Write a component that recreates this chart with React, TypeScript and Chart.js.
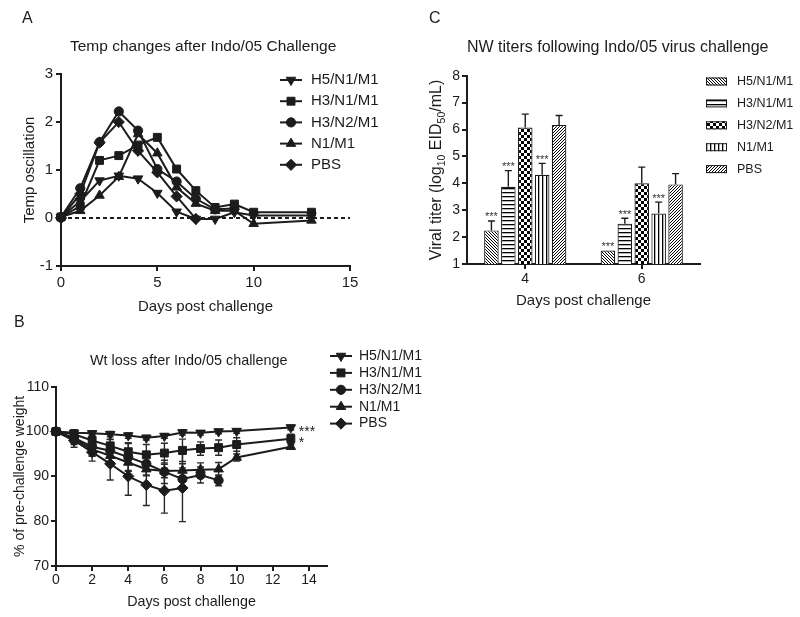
import React, { useEffect, useRef } from 'react';
import { Chart, registerables } from 'chart.js';
import { drawPoint } from 'chart.js/helpers';

Chart.register(...registerables);

const FONT = '"Liberation Sans", Arial, Helvetica, sans-serif';
const INK = '#1c1c1c';

// ---------- shared ----------
const seriesNames = ['H5/N1/M1', 'H3/N1/M1', 'H3/N2/M1', 'N1/M1', 'PBS'];

// ---------- Panel A: temperature ----------
const daysA = [0, 1, 2, 3, 4, 5, 6, 7, 8, 9, 10, 13];
const tempH5N1M1 = [0.02, 0.35, 0.78, 0.88, 0.82, 0.52, 0.13, -0.02, -0.02, 0.12, 0.05, 0.05];
const tempH3N1M1 = [0.02, 0.25, 1.2, 1.3, 1.52, 1.68, 1.02, 0.57, 0.22, 0.29, 0.12, 0.12];
const tempH3N2M1 = [0.02, 0.62, 1.58, 2.22, 1.82, 1.02, 0.76, 0.4, 0.18, 0.2, null, null];
const tempN1M1 = [0.02, 0.15, 0.47, 0.86, 1.75, 1.35, 0.64, 0.3, 0.15, 0.15, -0.12, -0.05];
const tempPBS = [0.0, 0.5, 1.57, 2.0, 1.4, 0.95, 0.45, -0.02, null, null, null, null];
const xTicksA = { min: 0, max: 15, step: 5 };
const yTicksA = { min: -1, max: 3, step: 1 };

// ---------- Panel B: weight ----------
const daysB = [0, 1, 2, 3, 4, 5, 6, 7, 8, 9, 10, 13];
const wtH5N1M1 = [100, 99.7, 99.6, 99.4, 99.1, 98.6, 99.0, 99.8, 99.7, 100.0, 100.1, 100.9];
const wtH3N1M1 = [100, 99.4, 98.0, 96.8, 95.5, 94.8, 95.2, 95.8, 96.2, 96.4, 97.1, 98.4];
const wtH3N2M1 = [100, 98.6, 96.6, 95.7, 94.3, 92.8, 91.0, 89.4, 90.3, 89.1, null, null];
const wtN1M1 = [100, 98.3, 96.0, 94.6, 93.1, 91.6, 91.2, 91.3, 91.5, 91.6, 94.2, 96.6];
const wtPBS = [100, 98.0, 95.4, 92.8, 90.0, 88.1, 86.8, 87.4, null, null, null, null];
const sdH5N1M1 = [0.3, 0.5, 0.5, 0.6, 0.6, 0.5, 0.5, 0.6, 0.5, 0.5, 0.5, 0.5];
const sdH3N1M1 = [0.3, 1.0, 1.5, 1.5, 2.0, 2.3, 2.2, 2.5, 1.5, 1.7, 1.5, 1.0];
const sdH3N2M1 = [0.3, 1.5, 2.0, 2.5, 3.0, 2.5, 2.6, 2.5, 1.8, 1.2, null, null];
const sdN1M1 = [0.3, 1.0, 1.5, 2.0, 2.0, 1.5, 1.5, 1.5, 1.5, 1.5, 0.8, 0.5];
const sdPBS = [0.3, 1.5, 2.0, 3.6, 4.2, 4.6, 5.0, 7.5, null, null, null, null];
const endMarksB = ['***', '*', '', '', ''];
const xTicksB = { min: 0, max: 15, step: 2 };
const yTicksB = { min: 70, max: 110, step: 10 };

// ---------- Panel C: viral titers ----------
const daysC = ['4', '6'];
const titerH5N1M1 = [2.25, 1.5];
const titerH3N1M1 = [3.87, 2.5];
const titerH3N2M1 = [6.07, 4.0];
const titerN1M1 = [4.32, 2.88];
const titerPBS = [6.17, 3.96];
const semH5N1M1 = [0.35, 0];
const semH3N1M1 = [0.6, 0.2];
const semH3N2M1 = [0.5, 0.6];
const semN1M1 = [0.42, 0.42];
const semPBS = [0.35, 0.4];
const starsH5N1M1 = ['***', '***'];
const starsH3N1M1 = ['***', '***'];
const starsH3N2M1 = ['', ''];
const starsN1M1 = ['***', '***'];
const starsPBS = ['', ''];
const yTicksC = { min: 1, max: 8, step: 1 };

// ---------- styles ----------
const markerStyles = [
  { pointStyle: 'triangle', rotation: 180, radius: 5.5 },
  { pointStyle: 'rect', rotation: 0, radius: 5.6 },
  { pointStyle: 'circle', rotation: 0, radius: 4.6 },
  { pointStyle: 'triangle', rotation: 0, radius: 5.5 },
  { pointStyle: 'rectRot', rotation: 0, radius: 5.6 },
];

function makePattern(kind: string): CanvasPattern | string {
  const c = document.createElement('canvas');
  const p = kind === 'check' ? 6 : kind === 'bs' || kind === 'fs' ? 3 : 4;
  c.width = p;
  c.height = p;
  const g = c.getContext('2d');
  if (!g) return '#fff';
  g.fillStyle = '#fff';
  g.fillRect(0, 0, p, p);
  g.fillStyle = '#000';
  g.strokeStyle = '#000';
  g.lineWidth = 1;
  if (kind === 'h') g.fillRect(0, 0, p, 1.3);
  if (kind === 'v') g.fillRect(0, 0, 1.3, p);
  if (kind === 'check') {
    g.fillRect(0, 0, 3, 3);
    g.fillRect(3, 3, 3, 3);
  }
  if (kind === 'bs') {
    g.beginPath();
    g.moveTo(-1, -1); g.lineTo(p + 1, p + 1);
    g.moveTo(-1, p - 1); g.lineTo(1, p + 1);
    g.moveTo(p - 1, -1); g.lineTo(p + 1, 1);
    g.stroke();
  }
  if (kind === 'fs') {
    g.beginPath();
    g.moveTo(-1, p + 1); g.lineTo(p + 1, -1);
    g.moveTo(-1, 1); g.lineTo(1, -1);
    g.moveTo(p - 1, p + 1); g.lineTo(p + 1, p - 1);
    g.stroke();
  }
  const pat = g.createPattern(c, 'repeat');
  return pat || '#fff';
}

// ---------- decoration plugin ----------
type LegendCfg = {
  kind: 'line' | 'swatch';
  x0: number; x1: number; tx: number; y0: number; dy: number; size: number;
  fills?: any[];
};
type Deco = {
  title?: { text: string; x: number; y: number; size: number };
  legend?: LegendCfg;
  zeroLine?: boolean;
  lineErrors?: (number | null)[][];
  endMarks?: string[];
  barErrors?: number[][];
  barStars?: string[][];
  richY?: { cx: number; cy: number };
};

function makeDeco(d: Deco) {
  return {
    id: 'deco',
    beforeDatasetsDraw(chart: any) {
      const ctx = chart.ctx;
      const xs = chart.scales.x;
      const ys = chart.scales.y;
      const ca = chart.chartArea;
      if (d.zeroLine) {
        const py = ys.getPixelForValue(0);
        ctx.save();
        ctx.setLineDash([4, 3]);
        ctx.strokeStyle = INK;
        ctx.lineWidth = 2;
        ctx.beginPath();
        ctx.moveTo(ca.left, py);
        ctx.lineTo(ca.right, py);
        ctx.stroke();
        ctx.restore();
      }
      if (d.lineErrors) {
        ctx.save();
        ctx.strokeStyle = '#2a2a2a';
        ctx.lineWidth = 1.4;
        chart.data.datasets.forEach((ds: any, di: number) => {
          const errs = d.lineErrors![di];
          ds.data.forEach((pt: any, i: number) => {
            const e = errs[i];
            if (pt.y == null || e == null) return;
            const px = xs.getPixelForValue(pt.x);
            const hi = ys.getPixelForValue(pt.y + e);
            const lo = ys.getPixelForValue(pt.y - e);
            ctx.beginPath();
            ctx.moveTo(px, hi); ctx.lineTo(px, lo);
            ctx.moveTo(px - 3.5, hi); ctx.lineTo(px + 3.5, hi);
            ctx.moveTo(px - 3.5, lo); ctx.lineTo(px + 3.5, lo);
            ctx.stroke();
          });
        });
        ctx.restore();
      }
    },
    afterDatasetsDraw(chart: any) {
      const ctx = chart.ctx;
      const xs = chart.scales.x;
      const ys = chart.scales.y;
      if (d.barErrors) {
        ctx.save();
        chart.data.datasets.forEach((ds: any, di: number) => {
          const meta = chart.getDatasetMeta(di);
          meta.data.forEach((bar: any, i: number) => {
            const v = ds.data[i];
            const e = d.barErrors![di][i];
            const top = ys.getPixelForValue(v + e);
            if (e > 0) {
              ctx.strokeStyle = INK;
              ctx.lineWidth = 1.4;
              ctx.beginPath();
              ctx.moveTo(bar.x, bar.y);
              ctx.lineTo(bar.x, top);
              ctx.moveTo(bar.x - 3.5, top);
              ctx.lineTo(bar.x + 3.5, top);
              ctx.stroke();
            }
            const s = d.barStars ? d.barStars[di][i] : '';
            if (s) {
              ctx.fillStyle = '#333';
              ctx.font = `11px ${FONT}`;
              ctx.textAlign = 'center';
              ctx.textBaseline = 'alphabetic';
              ctx.fillText(s, bar.x, top - 0.5);
            }
          });
        });
        ctx.restore();
      }
      if (d.endMarks) {
        ctx.save();
        ctx.fillStyle = INK;
        ctx.font = `14px ${FONT}`;
        ctx.textAlign = 'left';
        ctx.textBaseline = 'alphabetic';
        chart.data.datasets.forEach((ds: any, di: number) => {
          const s = d.endMarks![di];
          if (!s) return;
          let last: any = null;
          ds.data.forEach((pt: any) => { if (pt.y != null) last = pt; });
          if (!last) return;
          const px = xs.getPixelForValue(last.x);
          const py = ys.getPixelForValue(last.y);
          ctx.fillText(s, px + 8, py + 8.5);
        });
        ctx.restore();
      }
    },
    afterDraw(chart: any) {
      const ctx = chart.ctx;
      ctx.save();
      if (d.title) {
        ctx.fillStyle = INK;
        ctx.font = `${d.title.size}px ${FONT}`;
        ctx.textAlign = 'left';
        ctx.textBaseline = 'middle';
        ctx.fillText(d.title.text, d.title.x, d.title.y);
      }
      if (d.legend) {
        const L = d.legend;
        chart.data.datasets.forEach((ds: any, i: number) => {
          const y = L.y0 + i * L.dy;
          if (L.kind === 'line') {
            ctx.strokeStyle = INK;
            ctx.lineWidth = 2;
            ctx.beginPath();
            ctx.moveTo(L.x0, y);
            ctx.lineTo(L.x1, y);
            ctx.stroke();
            const m = markerStyles[i];
            ctx.fillStyle = INK;
            ctx.strokeStyle = INK;
            ctx.lineWidth = 1;
            drawPoint(ctx, { pointStyle: m.pointStyle as any, rotation: m.rotation, radius: m.radius, borderWidth: 1 } as any, (L.x0 + L.x1) / 2, y);
          } else {
            ctx.fillStyle = L.fills ? L.fills[i] : '#fff';
            ctx.fillRect(L.x0, y - 4, L.x1 - L.x0, 8);
            ctx.strokeStyle = INK;
            ctx.lineWidth = 1;
            ctx.strokeRect(L.x0 + 0.5, y - 3.5, L.x1 - L.x0 - 1, 7);
          }
          ctx.fillStyle = INK;
          ctx.font = `${L.size}px ${FONT}`;
          ctx.textAlign = 'left';
          ctx.textBaseline = 'middle';
          ctx.fillText(ds.label, L.tx, y);
        });
      }
      if (d.richY) {
        const parts: [string, number, number][] = [
          ['Viral titer (log', 16, 0],
          ['10', 10.5, 4],
          [' EID', 16, 0],
          ['50', 10.5, 4],
          ['/mL)', 16, 0],
        ];
        let total = 0;
        parts.forEach(([t, s]) => { ctx.font = `${s}px ${FONT}`; total += ctx.measureText(t).width; });
        ctx.translate(d.richY.cx, d.richY.cy);
        ctx.rotate(-Math.PI / 2);
        ctx.fillStyle = INK;
        ctx.textAlign = 'left';
        ctx.textBaseline = 'alphabetic';
        let x = -total / 2;
        parts.forEach(([t, s, dy]) => {
          ctx.font = `${s}px ${FONT}`;
          ctx.fillText(t, x, 5.5 + dy);
          x += ctx.measureText(t).width;
        });
      }
      ctx.restore();
    },
  };
}

// ---------- axis helpers ----------
function axisGrid() {
  return { drawOnChartArea: false, drawTicks: true, tickLength: 5, color: INK, lineWidth: 2 };
}
function axisBorder() {
  return { color: INK, width: 2 };
}

function lineSets(values: (number | null)[][], days: number[]) {
  return values.map((vals, i) => ({
    label: seriesNames[i],
    data: days.map((d, k) => ({ x: d, y: vals[k] })),
    borderColor: INK,
    backgroundColor: INK,
    borderWidth: 2,
    pointStyle: markerStyles[i].pointStyle,
    pointRotation: markerStyles[i].rotation,
    pointRadius: markerStyles[i].radius,
    pointBackgroundColor: INK,
    pointBorderColor: INK,
    pointBorderWidth: 1,
    tension: 0,
    spanGaps: false,
    clip: false,
  }));
}

function buildA(): any {
  return {
    type: 'line',
    data: { datasets: lineSets([tempH5N1M1, tempH3N1M1, tempH3N2M1, tempN1M1, tempPBS], daysA) },
    options: {
      responsive: false,
      animation: false,
      events: [],
      layout: { padding: { left: 0, right: 50, top: 74, bottom: 0 } },
      plugins: { legend: { display: false }, tooltip: { enabled: false }, title: { display: false } },
      scales: {
        x: {
          type: 'linear', min: xTicksA.min, max: xTicksA.max,
          afterFit: (s: any) => { s.height = 54; },
          ticks: { stepSize: xTicksA.step, color: INK, font: { size: 15, family: FONT }, padding: 3, maxRotation: 0 },
          grid: axisGrid(), border: axisBorder(),
          title: { display: true, text: 'Days post challenge', color: INK, font: { size: 15, family: FONT }, padding: { top: 0, bottom: 4 } },
        },
        y: {
          type: 'linear', min: yTicksA.min, max: yTicksA.max,
          afterFit: (s: any) => { s.width = 61; },
          ticks: { stepSize: yTicksA.step, color: INK, font: { size: 15, family: FONT }, padding: 3 },
          grid: axisGrid(), border: axisBorder(),
          title: { display: true, text: 'Temp oscillation', color: INK, font: { size: 15, family: FONT }, padding: { top: 21, bottom: 0 } },
        },
      },
    },
    plugins: [makeDeco({
      title: { text: 'Temp changes after Indo/05 Challenge', x: 70, y: 46.5, size: 15.5 },
      legend: { kind: 'line', x0: 280, x1: 302, tx: 311, y0: 80, dy: 21.2, size: 15 },
      zeroLine: true,
    })],
  };
}

function buildB(): any {
  return {
    type: 'line',
    data: { datasets: lineSets([wtH5N1M1, wtH3N1M1, wtH3N2M1, wtN1M1, wtPBS], daysB) },
    options: {
      responsive: false,
      animation: false,
      events: [],
      layout: { padding: { left: 0, right: 103, top: 66.7, bottom: 0 } },
      plugins: { legend: { display: false }, tooltip: { enabled: false }, title: { display: false } },
      scales: {
        x: {
          type: 'linear', min: xTicksB.min, max: xTicksB.max,
          afterFit: (s: any) => { s.height = 51; },
          ticks: { stepSize: xTicksB.step, includeBounds: false, color: INK, font: { size: 14, family: FONT }, padding: 1, maxRotation: 0 },
          grid: axisGrid(), border: axisBorder(),
          title: { display: true, text: 'Days post challenge', color: INK, font: { size: 14.3, family: FONT }, padding: { top: 0, bottom: 6.5 } },
        },
        y: {
          type: 'linear', min: yTicksB.min, max: yTicksB.max,
          afterFit: (s: any) => { s.width = 56; },
          ticks: { stepSize: yTicksB.step, color: INK, font: { size: 14, family: FONT }, padding: 2 },
          grid: axisGrid(), border: axisBorder(),
          title: { display: true, text: '% of pre-challenge weight', color: INK, font: { size: 14, family: FONT }, padding: { top: 12, bottom: 0 } },
        },
      },
    },
    plugins: [makeDeco({
      title: { text: 'Wt loss after Indo/05 challenge', x: 90, y: 41, size: 14.4 },
      legend: { kind: 'line', x0: 330, x1: 352, tx: 359, y0: 36, dy: 16.9, size: 14 },
      lineErrors: [sdH5N1M1, sdH3N1M1, sdH3N2M1, sdN1M1, sdPBS],
      endMarks: endMarksB,
    })],
  };
}

function buildC(): any {
  const fills = [makePattern('bs'), makePattern('h'), makePattern('check'), makePattern('v'), makePattern('fs')];
  const vals = [titerH5N1M1, titerH3N1M1, titerH3N2M1, titerN1M1, titerPBS];
  return {
    type: 'bar',
    data: {
      labels: daysC,
      datasets: vals.map((v, i) => ({
        label: seriesNames[i],
        data: v,
        backgroundColor: fills[i],
        borderColor: INK,
        borderWidth: 1.2,
        barPercentage: 0.86,
        categoryPercentage: 0.726,
      })),
    },
    options: {
      responsive: false,
      animation: false,
      events: [],
      layout: { padding: { left: 0, right: 100, top: 75.7, bottom: 0 } },
      plugins: { legend: { display: false }, tooltip: { enabled: false }, title: { display: false } },
      scales: {
        x: {
          type: 'category',
          afterFit: (s: any) => { s.height = 56; },
          ticks: { color: INK, font: { size: 14, family: FONT }, padding: 2, maxRotation: 0 },
          grid: { ...axisGrid(), offset: false },
          border: axisBorder(),
          title: { display: true, text: 'Days post challenge', color: INK, font: { size: 15, family: FONT }, padding: { top: 0, bottom: 10 } },
        },
        y: {
          type: 'linear', min: yTicksC.min, max: yTicksC.max,
          afterFit: (s: any) => { s.width = 57; },
          ticks: { stepSize: yTicksC.step, color: INK, font: { size: 14, family: FONT }, padding: 2 },
          grid: axisGrid(), border: axisBorder(),
          title: { display: false },
        },
      },
    },
    plugins: [makeDeco({
      title: { text: 'NW titers following Indo/05 virus challenge', x: 57, y: 48, size: 16 },
      legend: { kind: 'swatch', x0: 296, x1: 317, tx: 327, y0: 81.5, dy: 21.9, size: 12.5, fills },
      barErrors: [semH5N1M1, semH3N1M1, semH3N2M1, semN1M1, semPBS],
      barStars: [starsH5N1M1, starsH3N1M1, starsH3N2M1, starsN1M1, starsPBS],
      richY: { cx: 25, cy: 170 },
    })],
  };
}

function ChartCanvas(props: { w: number; h: number; left: number; top: number; build: () => any }) {
  const ref = useRef<HTMLCanvasElement | null>(null);
  useEffect(() => {
    if (!ref.current) return;
    const chart = new Chart(ref.current, props.build());
    return () => chart.destroy();
  }, []);
  return (
    <canvas
      ref={ref}
      width={props.w}
      height={props.h}
      style={{ position: 'absolute', left: props.left, top: props.top, width: props.w, height: props.h }}
    />
  );
}

const letterStyle = (left: number, top: number): React.CSSProperties => ({
  position: 'absolute', left, top, fontFamily: FONT, fontSize: 16, lineHeight: '16px', color: INK,
});

export default function App() {
  return (
    <div style={{ position: 'absolute', left: 0, top: 0, width: 800, height: 617, background: '#fff', overflow: 'hidden' }}>
      <ChartCanvas w={400} h={320} left={0} top={0} build={buildA} />
      <ChartCanvas w={430} h={297} left={0} top={320} build={buildB} />
      <ChartCanvas w={390} h={320} left={410} top={0} build={buildC} />
      <div style={letterStyle(22, 10)}>A</div>
      <div style={letterStyle(14, 314)}>B</div>
      <div style={letterStyle(429, 10)}>C</div>
    </div>
  );
}
